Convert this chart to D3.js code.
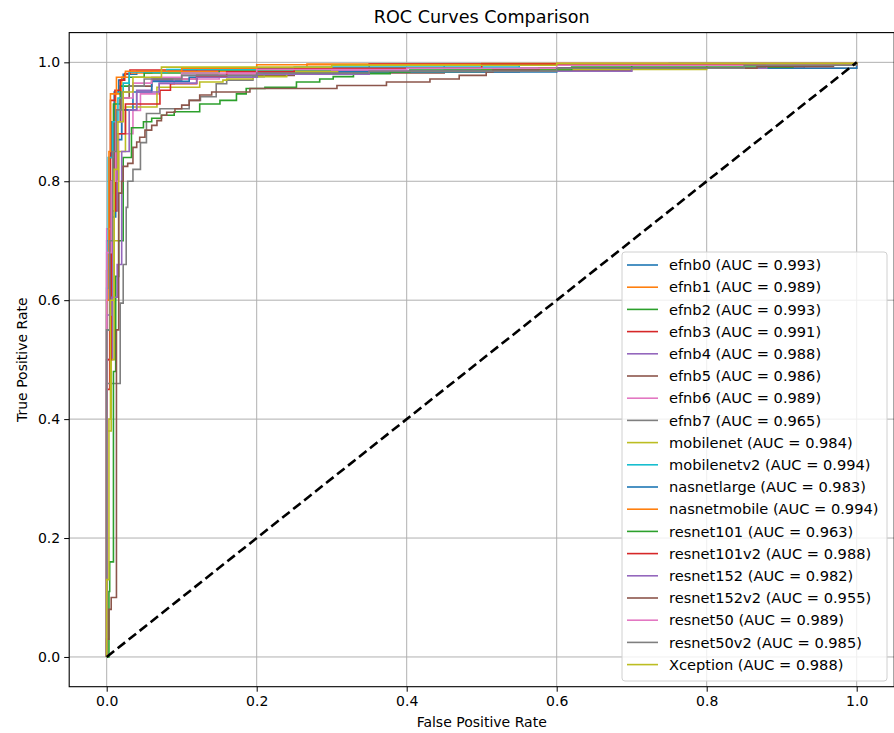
<!DOCTYPE html>
<html>
<head>
<meta charset="utf-8">
<script src="https://cdn.jsdelivr.net/npm/d3@7"></script>
<style>
body { margin: 0; background: #fff; }
text { font-family: "DejaVu Sans", sans-serif; fill: #000; }
</style>
</head>
<body>
<div id="chart"></div>
<script>
// ROC curves comparison, step curves

var models = ["efnb0", "efnb1", "efnb2", "efnb3", "efnb4", "efnb5", "efnb6", "efnb7",
  "mobilenet", "mobilenetv2", "nasnetlarge", "nasnetmobile", "resnet101", "resnet101v2",
  "resnet152", "resnet152v2", "resnet50", "resnet50v2", "Xception"];
var aucs = [0.993, 0.989, 0.993, 0.991, 0.988, 0.986, 0.989, 0.965, 0.984, 0.994,
  0.983, 0.994, 0.963, 0.988, 0.982, 0.955, 0.989, 0.985, 0.988];
var colors = ["#1f77b4", "#ff7f0e", "#2ca02c", "#d62728", "#9467bd", "#8c564b", "#e377c2",
  "#7f7f7f", "#bcbd22", "#17becf", "#1f77b4", "#ff7f0e", "#2ca02c", "#d62728", "#9467bd",
  "#8c564b", "#e377c2", "#7f7f7f", "#bcbd22"];

// [fpr, tpr] corners: move right to fpr, then up to tpr
var efnb0 = [[0,0],[0,0.7],[0.003,0.84],[0.006,0.9],[0.01,0.95],[0.016,0.97],[0.022,0.98],[0.04,0.985],[0.12,0.988],[0.3,0.99],[0.45,0.995],[0.75,0.998],[1,1]];
var efnb1 = [[0,0],[0,0.65],[0.004,0.78],[0.008,0.9],[0.012,0.947],[0.02,0.975],[0.03,0.982],[0.06,0.985],[0.2,0.99],[0.267,0.997],[0.6,0.998],[1,1]];
var efnb2 = [[0,0],[0,0.6],[0.005,0.8],[0.009,0.93],[0.018,0.96],[0.03,0.975],[0.05,0.982],[0.15,0.987],[0.35,0.99],[0.7,0.995],[1,1]];
var efnb3 = [[0,0],[0,0.45],[0.004,0.8],[0.005,0.936],[0.011,0.953],[0.018,0.97],[0.024,0.981],[0.031,0.987],[0.15,0.99],[0.35,0.997],[1,1]];
var efnb4 = [[0,0],[0,0.5],[0.008,0.75],[0.014,0.88],[0.02,0.92],[0.04,0.953],[0.06,0.97],[0.1,0.978],[0.16,0.982],[0.3,0.986],[0.55,0.99],[0.88,0.995],[1,1]];
var efnb5 = [[0,0],[0,0.65],[0.005,0.8],[0.01,0.9],[0.018,0.94],[0.03,0.96],[0.06,0.972],[0.12,0.978],[0.25,0.982],[0.45,0.986],[0.7,0.99],[1,1]];
var efnb6 = [[0,0],[0,0.72],[0.01,0.8],[0.016,0.88],[0.035,0.919],[0.045,0.947],[0.07,0.964],[0.09,0.972],[0.15,0.98],[0.3,0.985],[0.5,0.99],[0.9,0.995],[1,1]];
var efnb7 = [[0,0],[0,0.46],[0.018,0.595],[0.022,0.66],[0.026,0.756],[0.028,0.8],[0.035,0.82],[0.045,0.865],[0.053,0.914],[0.071,0.922],[0.11,0.936],[0.125,0.942],[0.146,0.964],[0.16,0.97],[0.195,0.976],[0.21,0.981],[0.32,0.984],[0.55,0.99],[0.93,0.995],[1,1]];
var mobilenet = [[0,0],[0,0.38],[0.006,0.5],[0.01,0.7],[0.016,0.85],[0.025,0.925],[0.067,0.958],[0.124,0.967],[0.155,0.97],[0.16,0.972],[0.195,0.976],[0.24,0.984],[0.5,0.988],[0.8,0.995],[1,1]];
var mobilenetv2 = [[0,0],[0,0.62],[0.002,0.84],[0.008,0.9],[0.015,0.94],[0.022,0.965],[0.03,0.984],[0.08,0.988],[0.25,0.992],[0.55,0.997],[1,1]];
var nasnetlarge = [[0,0],[0,0.55],[0.006,0.74],[0.012,0.87],[0.02,0.92],[0.035,0.95],[0.06,0.968],[0.11,0.975],[0.2,0.98],[0.31,0.984],[0.6,0.99],[1,1]];
var nasnetmobile = [[0,0],[0,0.6],[0.003,0.85],[0.005,0.947],[0.013,0.975],[0.025,0.985],[0.1,0.99],[0.2,0.996],[0.5,0.998],[1,1]];
var resnet101 = [[0,0],[0.003,0.11],[0.004,0.16],[0.009,0.48],[0.012,0.64],[0.016,0.7],[0.022,0.84],[0.033,0.89],[0.049,0.9],[0.06,0.906],[0.073,0.911],[0.09,0.917],[0.124,0.93],[0.151,0.936],[0.173,0.947],[0.186,0.956],[0.211,0.958],[0.253,0.967],[0.284,0.972],[0.302,0.976],[0.329,0.981],[0.378,0.984],[0.404,0.987],[0.62,0.992],[0.915,0.997],[1,1]];
var resnet101v2 = [[0,0],[0,0.5],[0.006,0.75],[0.012,0.88],[0.025,0.93],[0.071,0.953],[0.085,0.964],[0.12,0.976],[0.16,0.984],[0.25,0.99],[0.5,0.997],[1,1]];
var resnet152 = [[0,0],[0,0.575],[0.007,0.605],[0.014,0.66],[0.02,0.85],[0.03,0.92],[0.04,0.95],[0.07,0.965],[0.12,0.975],[0.2,0.98],[0.35,0.985],[0.7,0.99],[0.88,0.995],[1,1]];
var resnet152v2 = [[0,0],[0,0.03],[0.003,0.08],[0.006,0.1],[0.013,0.55],[0.016,0.78],[0.02,0.8],[0.022,0.825],[0.028,0.83],[0.035,0.857],[0.04,0.866],[0.044,0.874],[0.051,0.886],[0.06,0.894],[0.067,0.902],[0.073,0.911],[0.08,0.916],[0.091,0.922],[0.1,0.928],[0.11,0.936],[0.124,0.945],[0.14,0.95],[0.191,0.956],[0.307,0.961],[0.373,0.967],[0.431,0.972],[0.47,0.978],[0.506,0.984],[0.515,0.987],[0.576,0.99],[0.867,0.993],[0.969,0.997],[1,1]];
var resnet50 = [[0,0],[0,0.68],[0.006,0.8],[0.012,0.9],[0.02,0.94],[0.035,0.965],[0.06,0.975],[0.1,0.982],[0.2,0.988],[0.4,0.99],[0.6,0.995],[1,1]];
var resnet50v2 = [[0,0],[0,0.55],[0.004,0.7],[0.008,0.85],[0.013,0.92],[0.02,0.95],[0.03,0.96],[0.05,0.972],[0.1,0.978],[0.2,0.982],[0.35,0.985],[0.6,0.99],[0.85,0.995],[1,1]];
var xception = [[0,0],[0,0.13],[0.003,0.4],[0.005,0.6],[0.01,0.82],[0.015,0.9],[0.022,0.95],[0.035,0.975],[0.073,0.992],[0.3,0.995],[0.6,0.998],[1,1]];

var curves = [efnb0, efnb1, efnb2, efnb3, efnb4, efnb5, efnb6, efnb7, mobilenet, mobilenetv2,
  nasnetlarge, nasnetmobile, resnet101, resnet101v2, resnet152, resnet152v2, resnet50, resnet50v2, xception];

var diagonal = [[0, 0], [1, 1]];
var xTicks = [0, 0.2, 0.4, 0.6, 0.8, 1.0];
var yTicks = [0, 0.2, 0.4, 0.6, 0.8, 1.0];

// Set up the dimensions
var svgWidth = 894, svgHeight = 733;
var plotLeft = 69.2, plotRight = 894.2, plotTop = 32.6, plotBottom = 686.7;

var svg = d3.select("#chart")
    .append("svg")
    .attr("width", svgWidth)
    .attr("height", svgHeight);

var xScale = d3.scaleLinear().domain([-0.05, 1.05]).range([plotLeft, plotRight]);
var yScale = d3.scaleLinear().domain([-0.05, 1.05]).range([plotBottom, plotTop]);

svg.append("clipPath").attr("id", "plotclip")
  .append("rect")
    .attr("x", plotLeft).attr("y", plotTop)
    .attr("width", plotRight - plotLeft).attr("height", plotBottom - plotTop);

// grid
var grid = svg.append("g").attr("clip-path", "url(#plotclip)");
grid.selectAll(".vg").data(xTicks).enter().append("line")
    .attr("x1", d => xScale(d)).attr("x2", d => xScale(d))
    .attr("y1", plotTop).attr("y2", plotBottom)
    .attr("stroke", "#b0b0b0").attr("stroke-width", 1);
grid.selectAll(".hg").data(yTicks).enter().append("line")
    .attr("y1", d => yScale(d)).attr("y2", d => yScale(d))
    .attr("x1", plotLeft).attr("x2", plotRight)
    .attr("stroke", "#b0b0b0").attr("stroke-width", 1);

// curves
var line = d3.line()
    .x(d => xScale(d[0]))
    .y(d => yScale(d[1]))
    .curve(d3.curveStepAfter);

var plot = svg.append("g").attr("clip-path", "url(#plotclip)");
curves.forEach(function(c, i) {
  plot.append("path")
    .attr("d", line(c))
    .attr("fill", "none")
    .attr("stroke", colors[i])
    .attr("stroke-width", 1.6);
});

plot.append("path")
    .attr("d", d3.line().x(d => xScale(d[0])).y(d => yScale(d[1]))(diagonal))
    .attr("fill", "none")
    .attr("stroke", "#000")
    .attr("stroke-width", 2.6)
    .attr("stroke-dasharray", "9.5,4.5");

// axes
var bottomAxis = d3.axisBottom(xScale).tickValues(xTicks)
    .tickFormat(d3.format(".1f")).tickSize(5).tickPadding(4);
var leftAxis = d3.axisLeft(yScale).tickValues(yTicks)
    .tickFormat(d3.format(".1f")).tickSize(5).tickPadding(4);

var gx = svg.append("g").attr("transform", "translate(0," + plotBottom + ")").call(bottomAxis);
var gy = svg.append("g").attr("transform", "translate(" + plotLeft + ",0)").call(leftAxis);
[gx, gy].forEach(function(g) {
  g.select(".domain").remove();
  g.selectAll("text").attr("font-size", "14px").attr("font-family", "DejaVu Sans");
  g.selectAll("line").attr("stroke", "#000");
});

svg.append("rect")
    .attr("x", plotLeft).attr("y", plotTop)
    .attr("width", plotRight - plotLeft).attr("height", plotBottom - plotTop)
    .attr("fill", "none").attr("stroke", "#000").attr("stroke-width", 1.1);

// titles
svg.append("text")
    .attr("x", (plotLeft + plotRight) / 2).attr("y", 23)
    .attr("text-anchor", "middle").attr("font-size", "17.6px")
    .text("ROC Curves Comparison");
svg.append("text")
    .attr("x", (plotLeft + plotRight) / 2).attr("y", 727)
    .attr("text-anchor", "middle").attr("font-size", "14px")
    .text("False Positive Rate");
svg.append("text")
    .attr("transform", "translate(27," + ((plotTop + plotBottom) / 2) + ") rotate(-90)")
    .attr("text-anchor", "middle").attr("font-size", "14px")
    .text("True Positive Rate");

// legend
var legX = 622, legY = 252, legW = 265, legH = 429, rowH = 22.2;
var legend = svg.append("g");
legend.append("rect")
    .attr("x", legX).attr("y", legY)
    .attr("width", legW).attr("height", legH)
    .attr("rx", 3)
    .attr("fill", "#fff").attr("fill-opacity", 0.8)
    .attr("stroke", "#d0d0d0").attr("stroke-width", 1);

var rows = legend.selectAll(".row").data(models).enter().append("g")
    .attr("transform", (d, i) => "translate(0," + (legY + 13 + i * rowH) + ")");
rows.append("line")
    .attr("x1", legX + 5).attr("x2", legX + 36)
    .attr("stroke", (d, i) => colors[i]).attr("stroke-width", 1.6);
rows.append("text")
    .attr("x", legX + 47).attr("dy", "0.35em")
    .attr("font-size", "14.6px")
    .text((d, i) => d + " (AUC = " + aucs[i].toFixed(3) + ")");
</script>
</body>
</html>
